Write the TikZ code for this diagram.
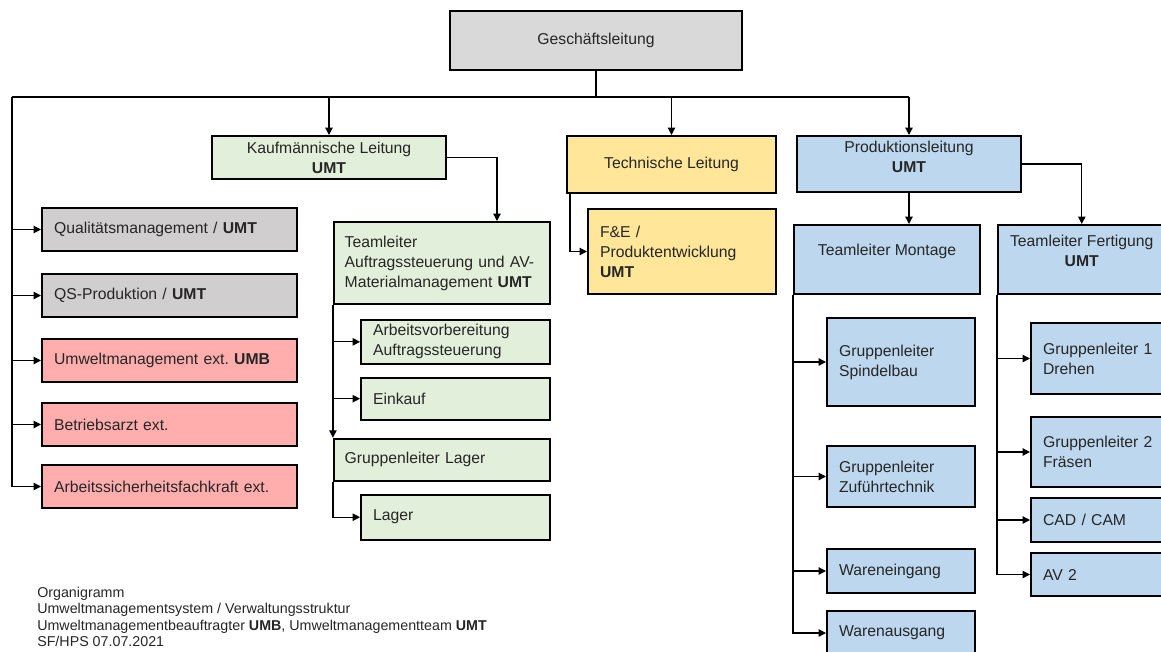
\documentclass[tikz,border=0pt]{standalone}
\usepackage{fontspec}
\setmainfont{Liberation Sans}
\frenchspacing
\usepackage{tikz}
\usetikzlibrary{arrows.meta,positioning}
\definecolor{glgray}{HTML}{D9D9D9}
\definecolor{qmgray}{HTML}{D0CECE}
\definecolor{kgreen}{HTML}{E2EFDA}
\definecolor{tyellow}{HTML}{FFE699}
\definecolor{pblue}{HTML}{BDD7EE}
\definecolor{xred}{HTML}{FFADAD}
\definecolor{txt}{HTML}{262626}
\tikzset{
  box/.style={draw,line width=1.6pt,align=center,text=txt,
              font=\fontsize{11.8}{15}\selectfont,inner xsep=9pt},
  lbox/.style={box,align=left},
  arr/.style={-{Triangle[length=5.5pt,width=5.5pt]},line width=0.9pt},
  line/.style={line width=0.9pt},
  grbox/.style={lbox,fill=qmgray,text width=173.15pt,minimum height=32.15pt},
  rbox/.style={grbox,fill=xred},
  gbox/.style={lbox,fill=kgreen},
  ybox/.style={box,fill=tyellow},
  bbox/.style={box,fill=pblue},
  sbox/.style={lbox,fill=pblue,text width=92.9pt},
}

\begin{document}
\begin{tikzpicture}[x=0.75pt,y=-0.75pt]
\useasboundingbox (0,0) rectangle (1161,651);
\clip (0,0) rectangle (1161,651);

% top level
\node[box,fill=glgray,minimum width=218.9pt,minimum height=44.15pt] (gl) at (596,40.5) {Geschäftsleitung};
\coordinate (bus) at (12,97);

\node[box,fill=kgreen,minimum width=175.4pt,minimum height=32.15pt] (kl) at (329,157.5)
  {Kaufmännische Leitung\\\textbf{UMT}};
\node[ybox,minimum width=156.65pt,minimum height=42.65pt,
      right=89.25pt of kl.north east,anchor=north west] (tl) {Technische Leitung};
\node[bbox,minimum width=167.9pt,minimum height=41.9pt,text depth=10.5pt,
      right=14.25pt of tl.north east,anchor=north west] (pl) {Produktionsleitung\\\textbf{UMT}};

% staff units
\node[grbox] (qm) at (169.5,229.5) {Qualitätsmanagement / \textbf{UMT}};
\node[grbox,below=15.75pt of qm] (qs) {QS-Produktion / \textbf{UMT}};
\node[rbox,below=15pt of qs]    (um) {Umweltmanagement ext. \textbf{UMB}};
\node[rbox,below=14.25pt of um] (ba) {Betriebsarzt ext.};
\node[rbox,below=12.75pt of ba] (asf) {Arbeitssicherheitsfachkraft ext.};

% commercial
\node[gbox,text width=146pt,inner xsep=8pt,minimum height=61.4pt] (ta) at (442,263)
  {Teamleiter\\Auftragssteuerung und AV-\\Materialmanagement \textbf{UMT}};
\node[gbox,text width=123.65pt,minimum height=32.15pt,
      below=10.5pt of ta.south east,anchor=north east] (av) {Arbeitsvorbereitung\\Auftragssteuerung};
\node[gbox,text width=123.65pt,minimum height=31.4pt,below=9pt of av] (ek) {Einkauf};
\node[gbox,text width=146pt,inner xsep=8pt,minimum height=31.4pt,
      below=12.75pt of ek.south east,anchor=north east] (gll) {Gruppenleiter Lager};
\node[gbox,text width=123.65pt,minimum height=33.65pt,
      below=9pt of gll.south east,anchor=north east] (la) {Lager};

% technical
\node[ybox,lbox,text width=122.9pt,minimum height=63.65pt,
      below=10.5pt of tl.south east,anchor=north east] (fe) {F\&E /\\Produktentwicklung\\\textbf{UMT}};

% production
\node[bbox,minimum width=139.4pt,minimum height=51.65pt,text depth=15.2pt] (tm) at (887,259.5)
  {Teamleiter Montage};
\node[bbox,minimum width=125.15pt,minimum height=51.65pt,text depth=13.5pt,right=12pt of tm] (tf)
  {Teamleiter Fertigung\\\textbf{UMT}};

\node[sbox,minimum height=65.9pt,below=16.5pt of tm.south west,anchor=north west,xshift=24.75pt] (sp)
  {Gruppenleiter\\Spindelbau};
\node[sbox,minimum height=45.65pt,below=28.5pt of sp] (zu) {Gruppenleiter\\Zuführtechnik};
\node[sbox,minimum height=32.9pt,below=30pt of zu] (we) {Wareneingang};
\node[sbox,minimum height=32.9pt,below=12pt of we] (wa) {Warenausgang};

\node[sbox,minimum height=53.15pt,below=20.25pt of tf.south west,anchor=north west,xshift=24.75pt] (dr)
  {Gruppenleiter 1\\Drehen};
\node[sbox,minimum height=52.4pt,below=15.75pt of dr]  (fr)  {Gruppenleiter 2\\Fräsen};
\node[sbox,minimum height=32.9pt,below=6.75pt of fr]  (cad) {CAD / CAM};
\node[sbox,minimum height=32.15pt,below=6.75pt of cad] (av2) {AV 2};

% connectors
\draw[line] (gl) -- (gl |- bus);
\draw[line] (bus) -- (pl |- bus);
\draw[arr] (kl |- bus) -- (kl);
\draw[arr] (tl |- bus) -- (tl);
\draw[arr] (pl |- bus) -- (pl);
\draw[arr] (bus) |- (asf);
\foreach \n in {qm,qs,um,ba} \draw[arr] (bus |- \n) -- (\n);

\draw[arr] (kl) -| ([xshift=41.25pt]ta.north);
\draw[arr] (ta.south west) -- (gll.north west);
\foreach \n in {av,ek} \draw[arr] (ta.south west |- \n) -- (\n);
\draw[arr] (gll.south west) |- (la);

\draw[arr] ([xshift=3pt]tl.south west) |- (fe);

\draw[arr] (pl) -- (pl |- tm.north);
\draw[arr] (pl) -| (tf);
\draw[arr] (tm.south west) |- (wa);
\foreach \n in {sp,zu,we} \draw[arr] (tm.south west |- \n) -- (\n);
\draw[arr] (tf.south west) |- (av2);
\foreach \n in {dr,fr,cad} \draw[arr] (tf.south west |- \n) -- (\n);

% legend
\node[anchor=north west,inner sep=0pt,align=left,text=txt,font=\fontsize{10.7}{12.4}\selectfont] (note)
  at (37,586.5) {Organigramm\\Umweltmanagementsystem / Verwaltungsstruktur\\
  Umweltmanagementbeauftragter \textbf{UMB}, Umweltmanagementteam \textbf{UMT}\\SF/HPS 07.07.2021};
\end{tikzpicture}
\end{document}
